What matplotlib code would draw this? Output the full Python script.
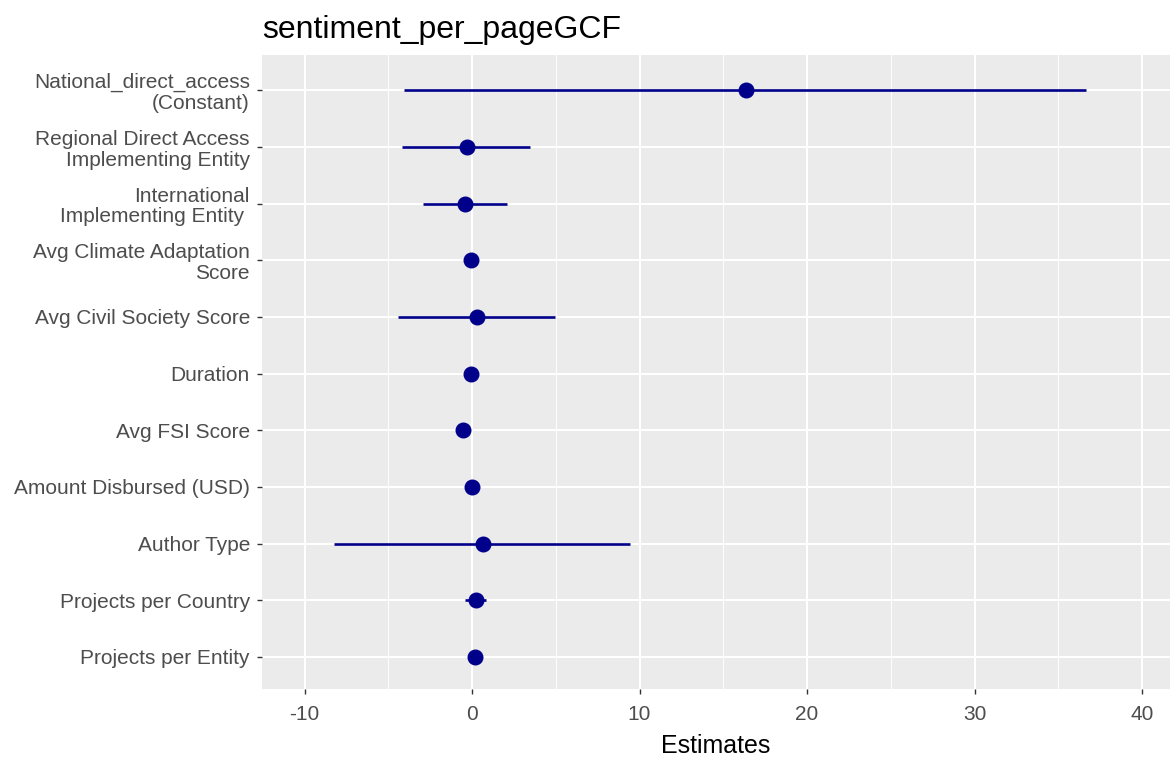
import matplotlib
matplotlib.use("Agg")
import matplotlib.pyplot as plt
from matplotlib.ticker import MultipleLocator

# Coefficient estimates with confidence intervals (top to bottom)
terms = [
    "National_direct_access\n(Constant)",
    "Regional Direct Access\nImplementing Entity",
    "International\nImplementing Entity ",
    "Avg Climate Adaptation\nScore",
    "Avg Civil Society Score",
    "Duration",
    "Avg FSI Score",
    "Amount Disbursed (USD)",
    "Author Type",
    "Projects per Country",
    "Projects per Entity",
]
estimates = [16.34, -0.32, -0.42, -0.08, 0.30, -0.08, -0.56, -0.02, 0.64, 0.22, 0.16]
ci_low = [-4.04, -4.20, -2.91, -0.15, -4.40, -0.12, -0.62, -0.06, -8.24, -0.42, 0.10]
ci_high = [36.66, 3.46, 2.11, -0.01, 4.96, -0.04, -0.50, 0.02, 9.43, 0.82, 0.22]

plt.rcParams['font.family'] = ['Liberation Sans', 'DejaVu Sans']
plt.rcParams['axes.unicode_minus'] = False

fig = plt.figure(figsize=(11.7, 7.57), dpi=100)
ax = fig.add_axes([261.7 / 1170, 1 - 689.3 / 757, 1 - 261.7 / 1170, (689.3 - 55) / 757])

n = len(terms)
ypos = [n - i for i in range(n)]
dot_color = "#00008B"

ax.hlines(ypos, ci_low, ci_high, color=dot_color, linewidth=1.9, zorder=3)
ax.plot(estimates, ypos, "o", color=dot_color, markersize=10.5, zorder=4)

ax.set_facecolor("#EBEBEB")
for side in ax.spines.values():
    side.set_visible(False)

ax.set_xlim(-12.56, 41.67)
ax.set_ylim(0.43, 11.62)
ax.xaxis.set_major_locator(MultipleLocator(10))
ax.xaxis.set_minor_locator(MultipleLocator(5))
ax.grid(which="major", color="white", linewidth=1.5, zorder=0)
ax.grid(which="minor", axis="x", color="white", linewidth=0.7, zorder=0)
ax.set_axisbelow(True)

ax.set_yticks(ypos)
ax.set_yticklabels(terms, linespacing=1.12)
ax.tick_params(axis="both", which="major", length=3.5, width=1, color="#333333",
               labelsize=15, labelcolor="#4D4D4D")
ax.tick_params(axis="y", pad=5)
ax.tick_params(axis="x", pad=8)
ax.tick_params(axis="x", which="minor", length=0)

ax.set_xlabel("Estimates", fontsize=18, color="black", labelpad=7)
ax.set_title("sentiment_per_pageGCF", fontsize=23, loc="left", pad=12, color="black")

fig.savefig("out.png", dpi=100)
